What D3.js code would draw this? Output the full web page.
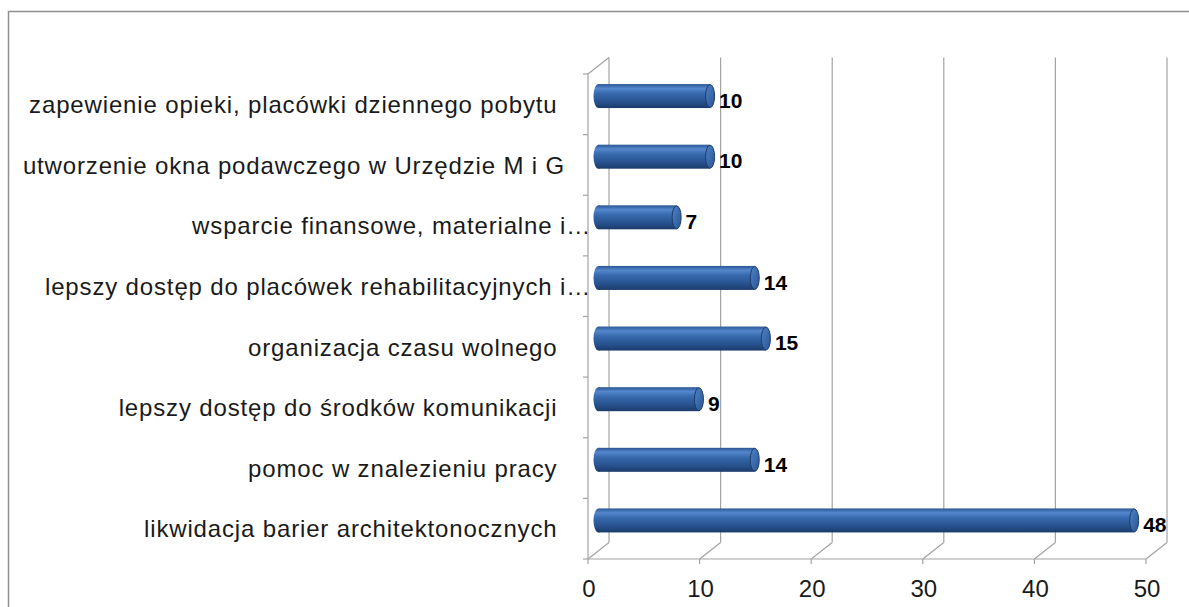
<!DOCTYPE html>
<html><head><meta charset="utf-8">
<script src="https://cdn.jsdelivr.net/npm/d3@7"></script>
<style>body{margin:0;background:#fff}svg{display:block}text{white-space:pre}</style>
</head><body>
<script>
const categories = [
  "zapewienie opieki, placówki dziennego pobytu ",
  "utworzenie okna podawczego w Urzędzie M i G",
  "wsparcie finansowe, materialne i…",
  "lepszy dostęp do placówek rehabilitacyjnych i…",
  "organizacja czasu wolnego ",
  "lepszy dostęp do środków komunikacji ",
  "pomoc w znalezieniu pracy ",
  "likwidacja barier architektonocznych "
];
const values = [10, 10, 7, 14, 15, 9, 14, 48];
const ticks = [0, 10, 20, 30, 40, 50];

const W = 1189, H = 607;
const svg = d3.select("body").append("svg").attr("width", W).attr("height", H);
const defs = svg.append("defs");
const g1 = defs.append("linearGradient").attr("id","cyl").attr("x1",0).attr("y1",0).attr("x2",0).attr("y2",1);
[[0,"#2b5694"],[0.18,"#5487cc"],[0.4,"#3769ad"],[0.75,"#27518d"],[1,"#1b3b6a"]].forEach(s=>g1.append("stop").attr("offset",s[0]).attr("stop-color",s[1]));
const g2 = defs.append("linearGradient").attr("id","cap").attr("x1",0).attr("y1",0).attr("x2",1).attr("y2",1);
[[0,"#4f82c6"],[1,"#2a5592"]].forEach(s=>g2.append("stop").attr("offset",s[0]).attr("stop-color",s[1]));

const x = d3.scaleLinear().domain([0,50]).range([588,1146]);
const y = d3.scaleBand().domain(categories).range([74,559]).padding(0);
const DX = 21, DY = -16.5;
const grid = "#a3a3a3";
const FONT = "Liberation Sans, Arial, sans-serif";

// border
svg.append("rect").attr("x",8.5).attr("y",11.5).attr("width",1300).attr("height",800)
  .attr("fill","none").attr("stroke","#8f8f8f").attr("stroke-width",1.5);

const axisG = svg.append("g").attr("stroke",grid).attr("stroke-width",1.2).attr("fill","none");
ticks.forEach(t=>{
  axisG.append("line").attr("x1",x(t)+DX).attr("x2",x(t)+DX).attr("y1",y.range()[0]+DY).attr("y2",y.range()[1]+DY);
  axisG.append("line").attr("x1",x(t)).attr("x2",x(t)+DX).attr("y1",y.range()[1]).attr("y2",y.range()[1]+DY);
  axisG.append("line").attr("x1",x(t)).attr("x2",x(t)).attr("y1",y.range()[1]).attr("y2",y.range()[1]+5);
});
axisG.append("line").attr("x1",x(0)).attr("x2",x(50)).attr("y1",y.range()[1]).attr("y2",y.range()[1]);
axisG.append("line").attr("x1",x(0)).attr("x2",x(0)).attr("y1",y.range()[0]).attr("y2",y.range()[1]);
axisG.append("line").attr("x1",x(0)).attr("x2",x(0)+DX).attr("y1",y.range()[0]).attr("y2",y.range()[0]+DY);
const bounds = categories.map(c=>y(c)).concat([y.range()[1]]);
bounds.forEach(b=>axisG.append("line").attr("x1",x(0)-5).attr("x2",x(0)).attr("y1",b).attr("y2",b));

// bars
const bh = 24;
const bars = svg.append("g");
categories.forEach((c,i)=>{
  const cy = y(c) + y.bandwidth()/2 + DY/2;
  const xs = x(0) + DX/2, xe = x(values[i]) + DX/2;
  bars.append("ellipse").attr("cx",xs).attr("cy",cy).attr("rx",5).attr("ry",bh/2).attr("fill","url(#cyl)");
  bars.append("rect").attr("x",xs).attr("y",cy-bh/2).attr("width",xe-xs).attr("height",bh).attr("fill","url(#cyl)");
  bars.append("ellipse").attr("cx",xe).attr("cy",cy).attr("rx",4.5).attr("ry",bh/2-0.5)
    .attr("fill","url(#cap)").attr("stroke","#1c3d6c").attr("stroke-width",1);
});

// value labels
svg.append("g").selectAll("text").data(categories).join("text")
  .attr("x",(c,i)=>x(values[i])+DX/2+9)
  .attr("y",c=>y(c)+y.bandwidth()/2+3.5)
  .attr("font-family",FONT).attr("font-weight","bold")
  .attr("font-size",21).attr("fill","#000").text((c,i)=>values[i]);

// category labels
svg.append("g").selectAll("text").data(categories).join("text")
  .attr("x",c=>c.endsWith("…") ? 591 : 565)
  .attr("y",c=>y(c)+y.bandwidth()/2+8.8)
  .attr("text-anchor","end")
  .attr("font-family",FONT).attr("letter-spacing","0.85px")
  .attr("font-size",24).attr("fill","#1a1a1a").text(c=>c);

// axis tick labels
svg.append("g").selectAll("text").data(ticks).join("text")
  .attr("x",t=>x(t)+1).attr("y",597).attr("text-anchor","middle")
  .attr("font-family",FONT)
  .attr("font-size",24).attr("fill","#1a1a1a").text(t=>t);
</script>
</body></html>
